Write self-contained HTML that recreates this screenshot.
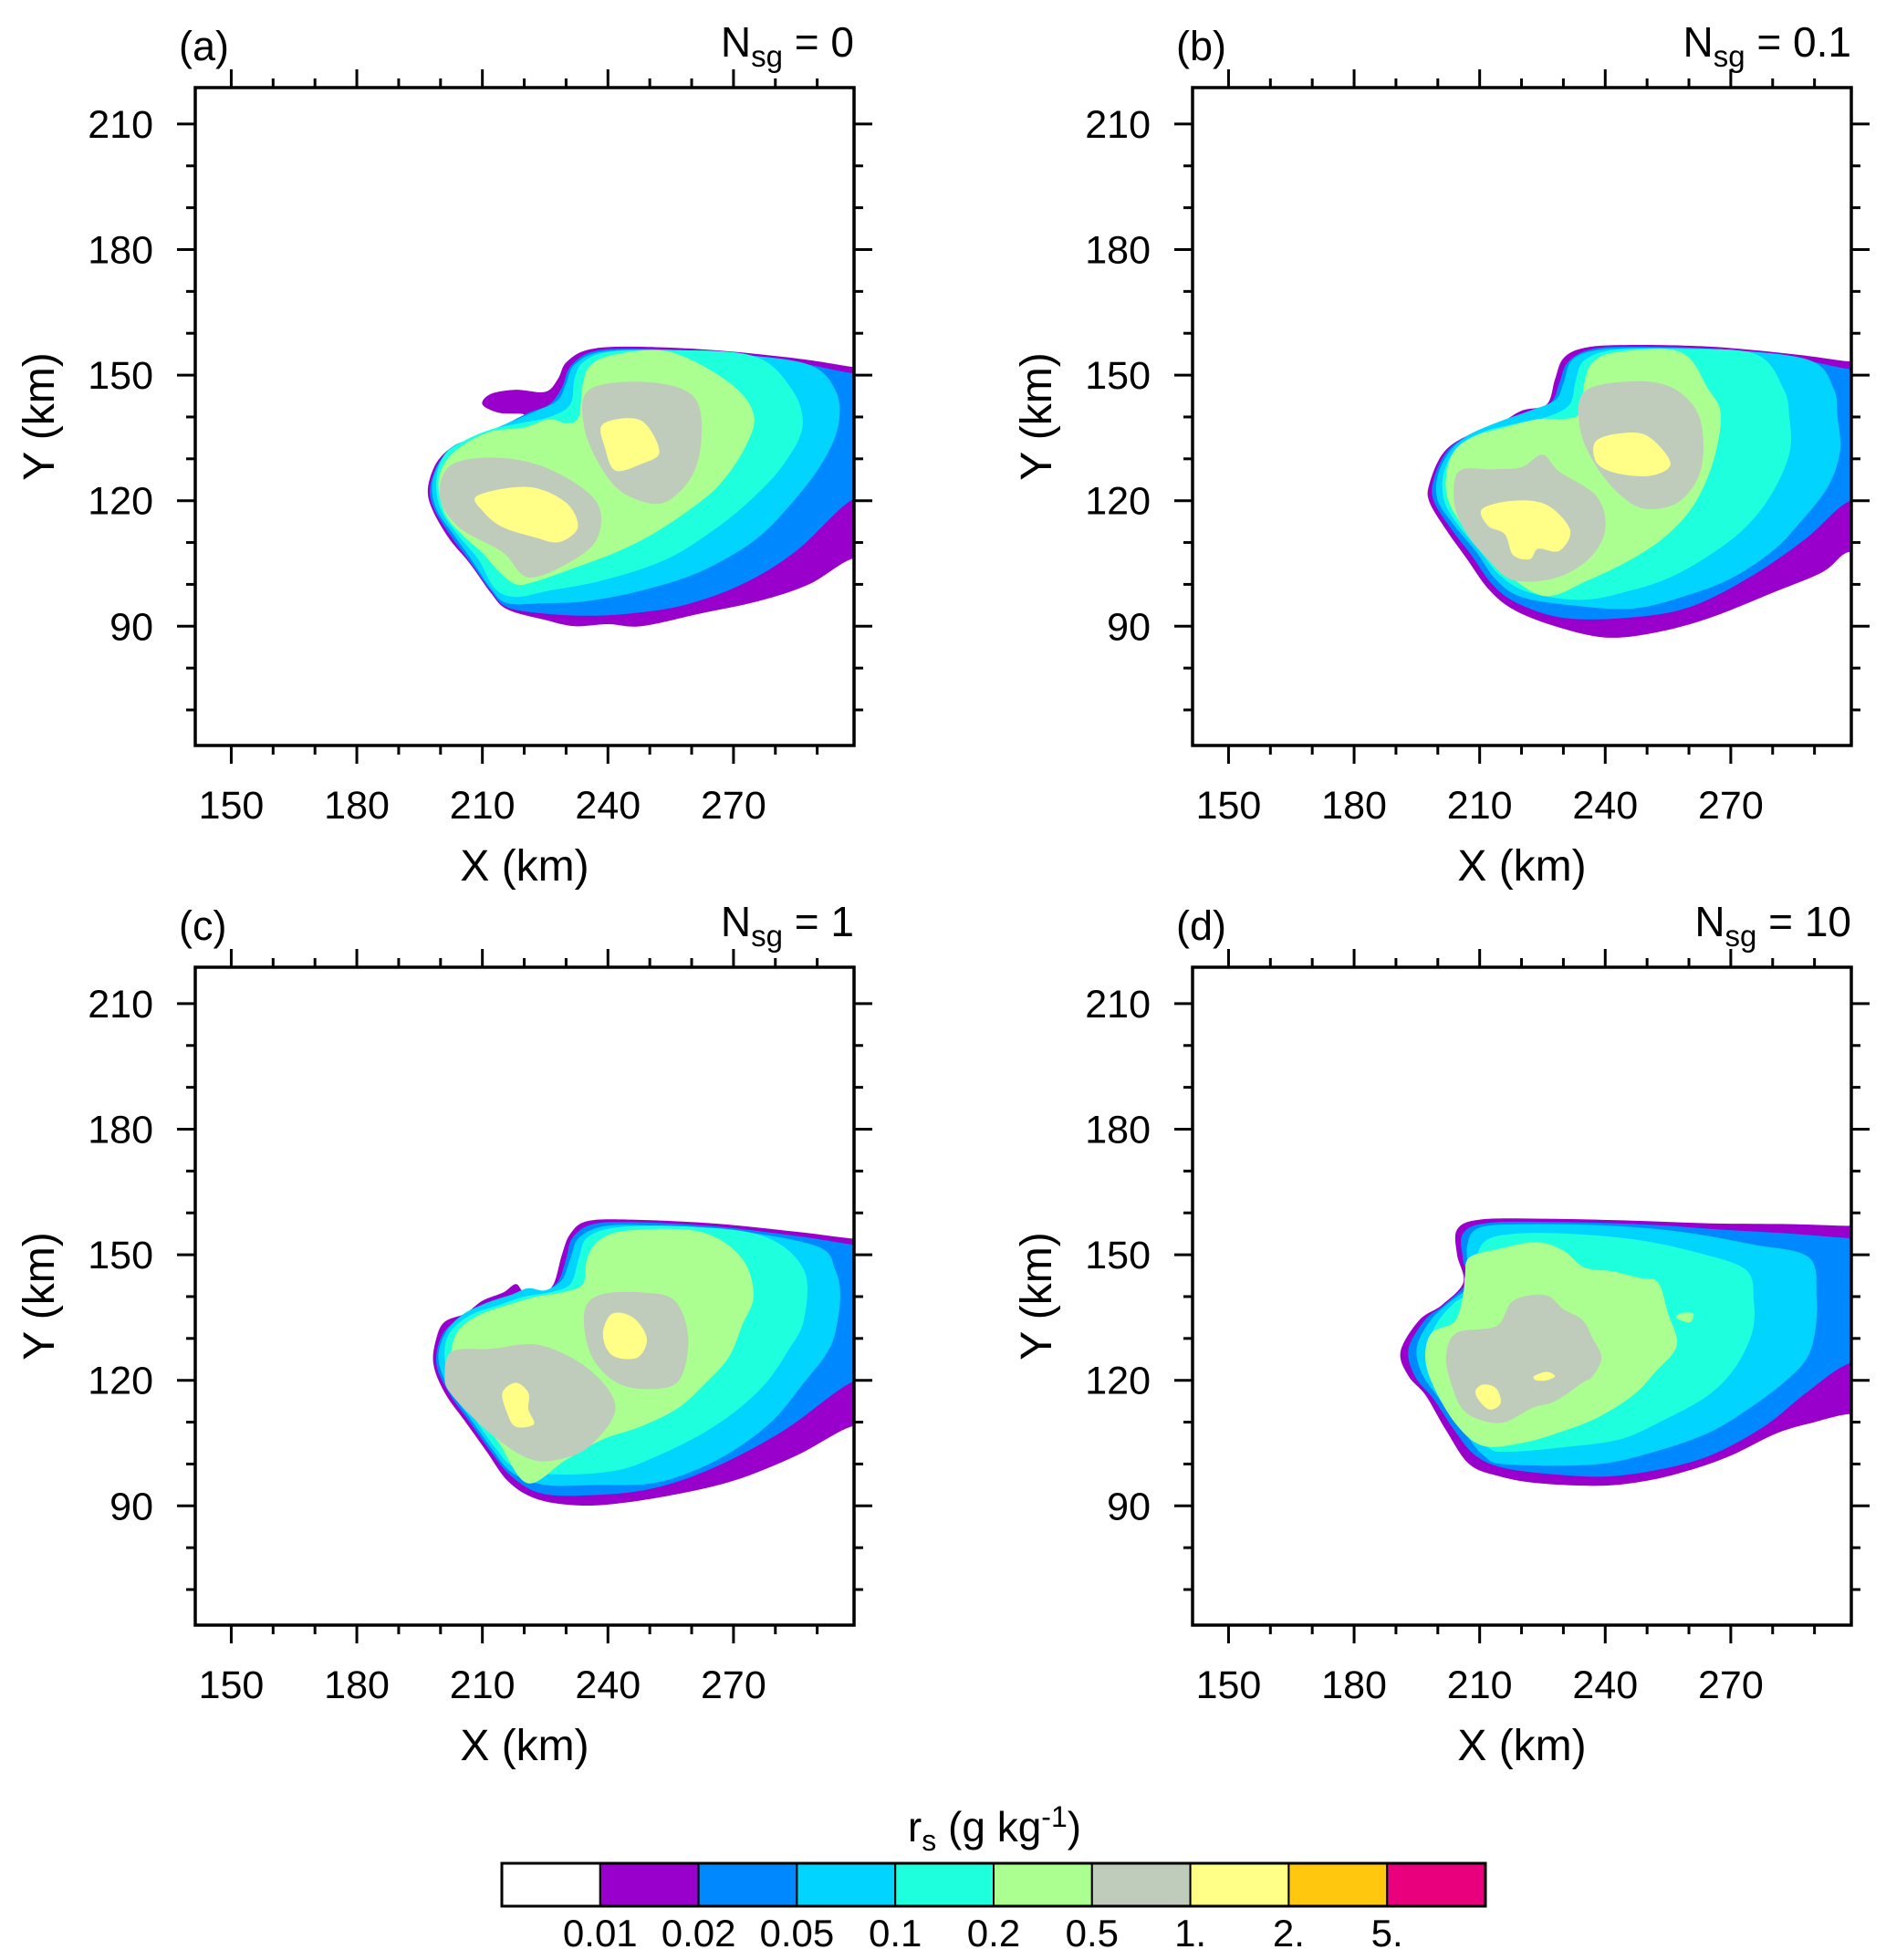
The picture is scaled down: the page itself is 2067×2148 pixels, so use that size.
<!DOCTYPE html>
<html><head><meta charset="utf-8"><style>
html,body{margin:0;padding:0;background:#fff}
svg{display:block}
text{font-family:"Liberation Sans",sans-serif;fill:#000}
</style></head><body>
<svg id="fig" width="2067" height="2148" viewBox="0 0 2067 2148" xmlns="http://www.w3.org/2000/svg">
<g id="panels"></g>
<g id="cbar"></g>
</svg>
<script>
// ---- data ----
const levelColors = ["#9900cc","#0088ff","#00d4ff","#1effdd","#aaff90","#c0ccbb","#ffff88","#ffc70d","#e8007c"];
const cbarLabels = ["0.01","0.02","0.05","0.1","0.2","0.5","1.","2.","5."];
const cbarColors = ["#ffffff","#9900cc","#0088ff","#00d4ff","#1effdd","#aaff90","#c0ccbb","#ffff88","#ffc70d","#e8007c"];
const xTicks = [150,180,210,240,270];
const yTicks = [90,120,150,180,210];
const panelLetters = ["(a)","(b)","(c)","(d)"];
const nsgValues = ["0","0.1","1","10"];
// contour polygons (km), per panel: [levelIndex, points]
const panelA = [
 [0,[[306,151],[298,152],[285,154],[265,156],[245,156.8],[235,156],[230,153],[228,149],[225,146],[218,146.5],[212,145.5],[210,143],[214,141],[220,140.5],[214,137.5],[208,135],[203,133],[199,129],[197,123],[198,118],[202,111],[207,105],[212,98],[216,94],[225,91.5],[232,90],[240,90.5],[248,90],[262,93],[276,96],[288,100],[298,106],[306,107]]],
 [1,[[306,150],[298,150.5],[285,153],[265,155.5],[245,156.3],[236,155.5],[231,152],[229,147],[226,143],[221,141],[215,138],[208,135],[203,132.5],[199.5,129],[197.5,123],[198.5,118],[202.5,111.5],[207,105.5],[212,98.5],[216,94.5],[225,93],[235,92.5],[245,93],[258,95],[272,100],[285,108],[298,120],[306,121]]],
 [2,[[288,152.5],[270,155],[250,156],[238,155.5],[232,152.5],[230,148],[228,144],[223,141.5],[216,138.5],[209,135.5],[203,133],[200,129.5],[198,124],[199,118],[203,112],[207,106.5],[212,99],[216,95.5],[225,95.5],[235,96],[248,98.5],[262,103],[275,110.5],[284,119.5],[291,128.7],[295,137.7],[294.5,146]]],
 [3,[[275,154.5],[255,156],[240,155.5],[234,153],[232,149],[231,143],[226,140],[219,138.5],[212,137],[206,134.5],[201,131],[199,125],[200,118],[204,112],[209,106],[213,99],[218,97],[226,98.5],[239,101],[254,106],[266,113.5],[275,121],[282,128.7],[286.5,137.7],[284,146.5]]],
 [4,[[255,155.5],[242,155],[236,152.5],[234,148],[233,140],[230,138.5],[226,139.5],[220,137.5],[212,136.5],[205,133],[201,129],[199.5,124],[201,117],[205,112],[210,107.5],[214,103],[218,100],[222,100.5],[230,103.2],[242,107.7],[251,112.2],[260,118.2],[267,124.2],[273,133.2],[274.8,140.7],[269,148.2]]],
 [5,[[235.8,146.7],[250.8,148.2],[261.3,143.7],[261.3,128.7],[253.8,119.7],[244.8,121.2],[238.8,127.2],[234.3,137.7]]],
 [5,[[202.8,128.7],[214.8,130.2],[226.8,127.2],[237.3,119.7],[237.3,110.7],[229.8,104.7],[220.8,101.7],[214.8,107.7],[204.3,113.7],[199.8,121.2]]],
 [6,[[208.8,121.2],[220.8,123.3],[229.8,119.7],[232.8,113.7],[228.3,110.1],[222.3,111.3],[214.8,113.7],[210.3,117.3]]],
 [6,[[238.8,138.3],[247.8,139.2],[252.3,131.7],[247.8,128.7],[241.8,127.2],[239.4,132.3]]]
];
const panelB = [
 [0,[[306,152.8],[298,153.3],[285,155],[265,156.8],[245,157.2],[235,156.5],[230,154],[228,149],[226,143],[220,141.5],[214,138],[206,135],[201,131],[198,124],[198,119.7],[202,113],[207,106],[212,99],[218,94],[228,90],[240,87.3],[252,88.5],[265,92],[280,98],[292,103],[298,107.7],[306,108]]],
 [1,[[306,151],[298,151.5],[285,154],[265,156.3],[245,156.8],[236,156],[231,153],[229,148],[227,143.5],[221,141],[214,138.5],[207,135.5],[202,131.5],[199,125],[199,120],[203,113.5],[208,107],[213,100],[219,95.5],[230,92],[245,92],[260,94.5],[275,102],[288,111],[298,119.7],[306,120]]],
 [2,[[289,153.5],[270,156],[250,156.5],[238,156],[232,153.5],[230,148],[228,144],[222,141.5],[215,139],[208,136],[203,132],[200,126],[200,120],[204,114],[209,108],[214,101],[220,97],[232,95],[246.6,94.2],[260,97.5],[270.6,101.7],[280,108],[285.6,113.7],[293,123],[296.1,131.7],[295.5,140],[294.6,146.7]]],
 [3,[[276,155],[258,156.3],[242,156],[235,153.5],[233,149],[231.5,143],[226,140],[219,138.5],[211,136.5],[205,133],[201.5,127],[201.5,120],[205,114],[210,108],[215,102],[222,98],[234.6,96.3],[246,98.5],[255.6,101.7],[265,107],[273.6,113.7],[280,122],[284.1,131.7],[284,140],[282.6,146.7]]],
 [4,[[258,155.5],[243,155.5],[237,153],[235,148],[234,141],[230,139.5],[224,139.5],[216,137.5],[209,135.5],[204,132],[202,126],[202.5,120],[206,114],[211,108.5],[216,103],[225.6,97.2],[236,101],[246.6,106.2],[255,112],[261.6,119.7],[266,130],[267.6,140.7],[264.6,146.7]]],
 [5,[[235,146],[246,148.5],[256,147],[262.5,140],[263,128],[258,120],[250,118],[244,121],[238,128],[234,137]]],
 [5,[[205,127],[213,127.5],[220,128],[225,131],[229,127],[238,121],[240,113],[236,106],[228,101.5],[218,101],[212,106],[207,112],[204,119]]],
 [6,[[237.6,134],[243,136],[250,135.5],[255.6,129],[251,126],[243,126.5],[238,129]]],
 [6,[[210.6,118],[218,120],[226,119],[231.6,113],[229,108],[224,108.5],[222,106],[218,107],[216,112],[212,114]]]
];
const panelC = [
 [0,[[306,153.5],[298,153.9],[285,155.5],[265,157.5],[245,158.4],[235,158],[231,155],[229,150],[227,143],[224,140.4],[220,141],[218,143],[215,141],[210,139],[206,136],[201,134],[199,130],[198.3,123.9],[201,117],[206,110],[211,103],[216,96],[222,92],[230,90.3],[240,90.3],[255,92.5],[270,96],[285,102],[298,108.9],[306,109]]],
 [1,[[306,152],[298,152.5],[285,154.5],[265,156.8],[245,157.8],[236,157.2],[231.5,154],[230,149],[228,143.5],[224,141],[220,141.5],[217,140],[211,138],[205,135],[200.5,131],[199,124],[202,117],[207,110],[212,103],[217,97],[224,93],[235,92.5],[250,94],[265,99],[282,108],[298,119.4],[306,120]]],
 [2,[[290,152],[270,155.8],[250,157],[239,156.8],[233,154],[231,149],[229,144],[225,141.5],[221,142],[217,140.5],[211,138.5],[205,135.5],[201,131],[199.5,125],[202,118],[207,111],[212,104],[217,98],[225,95],[237,95],[250.8,95.4],[262,99],[271.8,104.4],[280,111],[286.8,119.4],[292,126],[294.3,131.4],[295.5,140],[294.3,146.4]]],
 [3,[[277,154.5],[258,156.8],[242,156.5],[235,154],[233,149],[231,143],[226,141],[220,140],[214,138],[207,135.5],[202,131],[201,125],[203,118],[208,111],[213,104],[218,99],[228,97.5],[241.8,98.4],[252,102],[262.8,107.4],[271,113],[277.8,119.4],[283,127],[286.8,134.4],[286.8,146.4]]],
 [4,[[262,155.5],[245,155.8],[238,153.5],[235,149],[234,143],[229,141],[223,140],[216,138],[209,135.5],[204,131.5],[202.5,125],[204.5,118],[209,112],[214,105],[220.8,95.4],[230,101],[238.8,105.9],[248,109],[256.8,113.4],[263,119],[268.8,125.4],[272,133],[274.8,140.4],[271.8,149.4]]],
 [5,[[234.3,136],[238,140.4],[248,141],[256,139],[259.2,130],[257,120],[250,117.9],[242,119.5],[236,126]]],
 [5,[[202.8,126.9],[212,127.5],[223.8,128.4],[235.8,122.4],[241.8,113.4],[235.8,104.4],[228,101],[220.8,101.4],[211.8,107.4],[202.8,116.4],[201,121]]],
 [6,[[238.8,131],[241,135.9],[246,135],[249.3,130],[247,125.4],[241,126]]],
 [6,[[214.8,117],[218,119.4],[221,117],[221,113],[222.3,109.5],[218,108.9],[216,112]]]
];
const panelD = [
 [0,[[306,156.8],[298,156.9],[285,157.3],[265,157.5],[245,158.2],[225,158.6],[210,158.4],[204.6,156],[204.6,150],[206.1,143.4],[201,138],[195.6,134.4],[191.1,126.9],[193,121],[197.1,116.4],[202,108],[207.6,99.9],[215,97],[224.1,95.4],[239.1,94.8],[250,96],[259.8,98.4],[270,102],[281.1,107.4],[290,110],[298,111.9],[306,112]]],
 [1,[[306,154],[298,154],[285,155],[268,156],[250,157.2],[230,157.8],[212,157.6],[206,155],[206,149],[207,143.5],[201.5,138],[197,134.5],[193,127.5],[194.5,121],[199,115.5],[204,108],[209,102],[216,99],[228,97.5],[240,97],[252,98.5],[265,102],[278,109],[288,117],[298,123.9],[306,124]]],
 [2,[[288.6,149.4],[275,152.5],[258,155.5],[240,157],[222,157.3],[210,156.5],[207,152],[207.5,146],[207.5,142.5],[202,138],[198,134],[195,128],[196,122],[200,116],[206,108],[211,102],[216.6,99.9],[237.6,99.9],[252,103],[264.6,107.4],[274,113],[282.6,119.4],[288,125],[290.1,131.4],[290.5,140]]],
 [3,[[273.6,146.4],[262,150.5],[248,153.5],[232,155],[218,155],[211,153],[209,147],[209,142],[204,138.5],[200,134],[197.5,128],[198.5,122],[202,117],[207,110],[212,104],[216.6,102.9],[230,104],[243.6,105.9],[254,110.5],[264.6,116.4],[271,123],[275.1,131.4],[275.5,139]]],
 [4,[[207.6,149.4],[215,151.5],[223.6,153],[230,151],[235,147],[242,146],[248,144.5],[252.6,143.4],[255,136],[257.1,128.4],[252,122],[246.6,116.4],[238,111],[228.6,107.4],[220,105],[210.6,104.4],[204,110],[198.6,119.4],[197,126],[198.6,131.4],[204,134],[206,140],[206.5,145]]],
 [5,[[204.6,131.4],[214,133],[218,139],[225.6,140.4],[230,137],[234.6,134.4],[237,130],[239.1,125.4],[237,121],[234.6,119.4],[228,115],[222.6,113.4],[216,110],[210.6,110.4],[206,113],[203.1,119.4],[202,126]]],
 [6,[[209,117.5],[211,119],[214,118],[215,114.5],[212.5,113],[210,115]]],
 [6,[[223,121],[226,122],[228,121],[226,120],[223.5,120]]],
 [4,[[257,135],[258,136],[261,136],[260.5,134],[259,134]]]
];
const panelContours = [panelA, panelB, panelC, panelD];

// ---- layout ----
const NS = "http://www.w3.org/2000/svg";
const origins = [[214,96],[1307,96],[214,1060],[1307,1060]];
const PW = 722, PH = 721;
const XMIN = 141.4, XMAX = 298.8, YMIN = 61.5, YMAX = 218.7;
function sx(x){ return (x - XMIN) / (XMAX - XMIN) * PW; }
function sy(y){ return (YMAX - y) / (YMAX - YMIN) * PH; }
function mk(tag, attrs, parent){
  const e = document.createElementNS(NS, tag);
  for (const k in attrs) e.setAttribute(k, attrs[k]);
  if (parent) parent.appendChild(e);
  return e;
}
function smoothPath(pts){
  const p = pts.map(q => [sx(q[0]), sy(q[1])]);
  const n = p.length;
  let d = "M" + p[0][0].toFixed(1) + "," + p[0][1].toFixed(1);
  for (let i = 0; i < n; i++){
    const p0 = p[(i-1+n)%n], p1 = p[i], p2 = p[(i+1)%n], p3 = p[(i+2)%n];
    const c1 = [p1[0] + (p2[0]-p0[0])/6, p1[1] + (p2[1]-p0[1])/6];
    const c2 = [p2[0] - (p3[0]-p1[0])/6, p2[1] - (p3[1]-p1[1])/6];
    d += "C" + c1[0].toFixed(1)+","+c1[1].toFixed(1)+" "+c2[0].toFixed(1)+","+c2[1].toFixed(1)+" "+p2[0].toFixed(1)+","+p2[1].toFixed(1);
  }
  return d + "Z";
}
const panelsG = document.getElementById("panels");
const defs = mk("defs", {}, panelsG);
const clip = mk("clipPath", {id:"pclip"}, defs);
mk("rect", {x:0, y:0, width:PW, height:PH}, clip);

origins.forEach((o, pi) => {
  const g = mk("g", {transform:"translate("+o[0]+","+o[1]+")"}, panelsG);
  
  
  const cg = mk("g", {"clip-path":"url(#pclip)"}, g);
  
  
  panelContours[pi].forEach(c => {
    const path = mk("path", {d: smoothPath(c[1]), fill: levelColors[c[0]]}, cg);
    
    
  });
  const frame = mk("rect", {x:0, y:0, width:PW, height:PH, fill:"none", stroke:"#000", "stroke-width":3.5}, g);
  
  
  const tg = mk("g", {stroke:"#000", "stroke-width":3}, g);
  
  
  for (let v = 150; v <= 290; v += 10){
    const X = sx(v), L = (v % 30 === 0) ? 20 : 10;
    mk("line", {x1:X, y1:PH, x2:X, y2:PH+L}, tg);
    mk("line", {x1:X, y1:0, x2:X, y2:-L}, tg);
  }
  for (let v = 70; v <= 210; v += 10){
    const Y = sy(v), L = (v % 30 === 0) ? 20 : 10;
    mk("line", {x1:0, y1:Y, x2:-L, y2:Y}, tg);
    mk("line", {x1:PW, y1:Y, x2:PW+L, y2:Y}, tg);
  }
  xTicks.forEach(v => {
    const t = mk("text", {x:sx(v), y:PH+80, "font-size":43, "text-anchor":"middle"}, g);
    t.textContent = v;
    
    
  });
  yTicks.forEach(v => {
    const t = mk("text", {x:-46, y:sy(v)+15, "font-size":43, "text-anchor":"end"}, g);
    t.textContent = v;
    
    
  });
  const xt = mk("text", {x:PW/2, y:PH+148, "font-size":48, "text-anchor":"middle"}, g);
  xt.textContent = "X (km)";
  
  
  const yt = mk("text", {x:0, y:0, "font-size":48, "text-anchor":"middle", transform:"translate(-155,"+(PH/2)+") rotate(-90)"}, g);
  yt.textContent = "Y (km)";
  
  
  const lt = mk("text", {x:-18, y:-30, "font-size":45}, g);
  lt.textContent = panelLetters[pi];
  
  
  const nt = mk("text", {x:PW, y:-34, "font-size":46, "text-anchor":"end"}, g);
  
  
  const t1 = mk("tspan", {}, nt); t1.textContent = "N";
  const t2 = mk("tspan", {"font-size":33, dy:11}, nt); t2.textContent = "sg";
  const t3 = mk("tspan", {dy:-11}, nt); t3.textContent = " = " + nsgValues[pi];
});

// colorbar
const cb = document.getElementById("cbar");
const CBX = 550, CBW = 1078, CBY = 2042, CBH = 47, n = cbarColors.length;
cbarColors.forEach((c, i) => {
  const r = mk("rect", {x:CBX + i*CBW/n, y:CBY, width:CBW/n, height:CBH, fill:c, stroke:"#000", "stroke-width":2}, cb);
  
  
});
mk("rect", {x:CBX, y:CBY, width:CBW, height:CBH, fill:"none", stroke:"#000", "stroke-width":3}, cb);
cbarLabels.forEach((l, i) => {
  const t = mk("text", {x:CBX + (i+1)*CBW/n, y:2133, "font-size":42, "text-anchor":"middle"}, cb);
  t.textContent = l;
  
  
});
const ct = mk("text", {x:1090, y:2018, "font-size":46, "text-anchor":"middle"}, cb);


const s1 = mk("tspan", {}, ct); s1.textContent = "r";
const s2 = mk("tspan", {"font-size":32, dy:10}, ct); s2.textContent = "s";
const s3 = mk("tspan", {dy:-10}, ct); s3.textContent = " (g kg";
const s4 = mk("tspan", {"font-size":32, dy:-16}, ct); s4.textContent = "-1";
const s5 = mk("tspan", {dy:16}, ct); s5.textContent = ")";
</script>
</body></html>
